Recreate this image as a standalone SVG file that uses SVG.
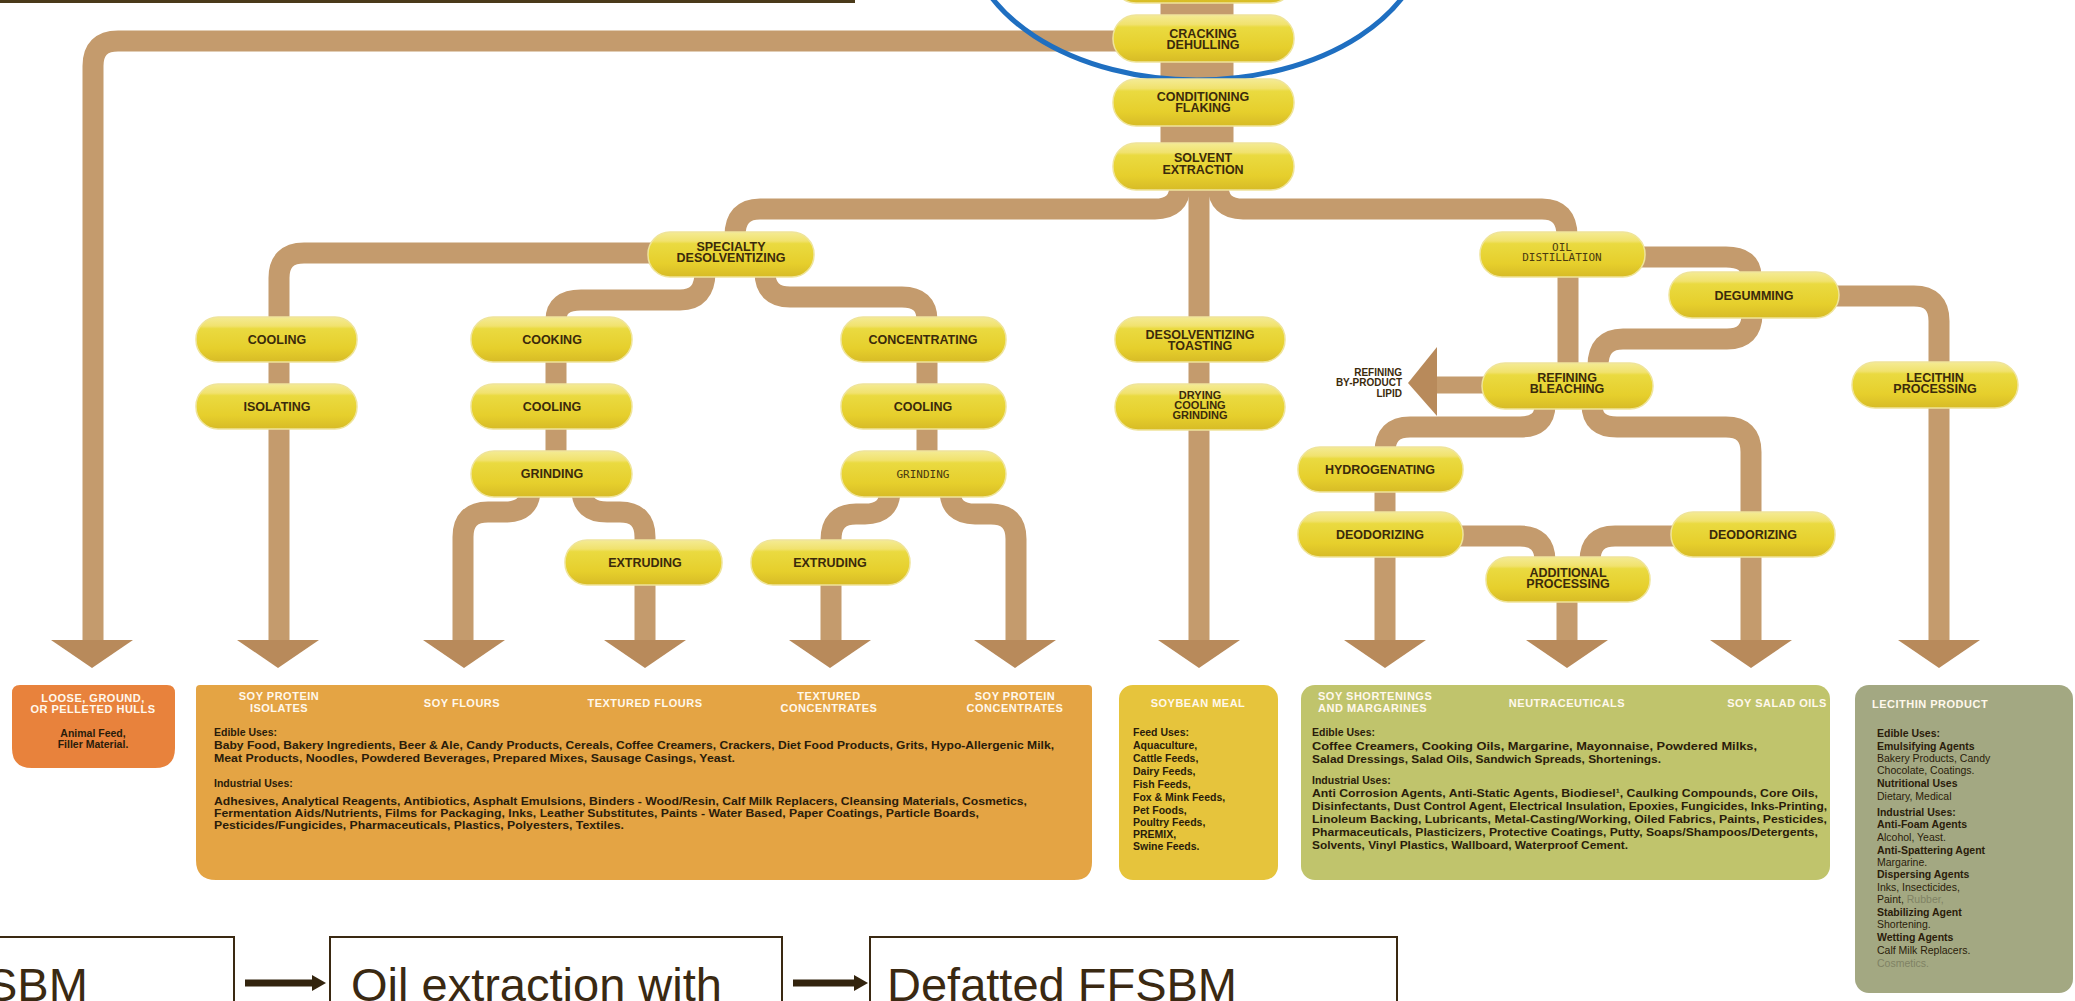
<svg xmlns="http://www.w3.org/2000/svg" width="2075" height="1001" viewBox="0 0 2075 1001">
<defs>
<linearGradient id="pillg" x1="0" y1="0" x2="0" y2="1">
<stop offset="0" stop-color="#f4eb94"/>
<stop offset="0.2" stop-color="#f1e26e"/>
<stop offset="0.26" stop-color="#eada40"/>
<stop offset="0.7" stop-color="#e6cf2c"/>
<stop offset="1" stop-color="#d7bb26"/>
</linearGradient>
</defs>
<style>
.pipe{fill:none;stroke:#c49b6d;stroke-width:21}
.trunk{fill:none;stroke:#c49b6d;stroke-width:73}
.head{fill:#b88a5b}
.pill{fill:url(#pillg);stroke:#efe49a;stroke-width:1.5}
.nt{font-family:"Liberation Sans",Arial,sans-serif;font-weight:bold;font-size:12.5px;fill:#3b2a0b;text-anchor:middle}
.nts{font-family:"Liberation Sans",Arial,sans-serif;font-weight:bold;font-size:11px;fill:#3b2a0b;text-anchor:middle}
.ntl{font-family:"DejaVu Sans Mono",monospace;font-size:11px;fill:#4a3a10;text-anchor:middle}
.lbl{font-family:"Liberation Sans",Arial,sans-serif;font-weight:bold;font-size:10px;fill:#3b2a0b;text-anchor:end}
.tt{font-family:"Liberation Sans",Arial,sans-serif;font-weight:bold;font-size:11px;fill:#fff8ec;letter-spacing:0.5px}
.ttc{text-anchor:middle}
.bt{font-family:"Liberation Sans",Arial,sans-serif;font-weight:bold;font-size:10.5px;fill:#2a1c0a}
.btr{font-family:"Liberation Sans",Arial,sans-serif;font-size:10.5px;fill:#2a1c0a}
.fade{fill:#7f8264}
.fb{fill:none;stroke:#3a2912;stroke-width:2}
.ft{font-family:"Liberation Sans",Arial,sans-serif;font-size:47px;fill:#3a2912}
.fa{stroke:#33240e;stroke-width:7}
.fah{fill:#33240e}
</style>
<rect x="0" y="0" width="2075" height="1001" fill="#ffffff"/>

<line x1="0" y1="1.5" x2="855" y2="1.5" stroke="#4a3a1a" stroke-width="3"/>

<g id="connectors">
<line class="trunk" x1="1197" y1="0" x2="1197" y2="150"/>
<path class="pipe" d="M1120,41 H118 Q93,41 93,66 V642"/>
<path class="pipe" d="M1199,185 V642"/>
<path class="pipe" d="M1180,185 Q1180,209 1155,209 H760 Q735,209 735,236"/>
<path class="pipe" d="M1218,185 Q1218,209 1243,209 H1542 Q1567,209 1567,236"/>
<path class="pipe" d="M660,253 H304 Q279,253 279,278 V642"/>
<path class="pipe" d="M705,272 Q705,300 680,300 H581 Q556,300 556,320 V455"/>
<path class="pipe" d="M765,272 Q765,297 790,297 H902 Q927,297 927,320 V455"/>
<path class="pipe" d="M530,490 Q530,512 505,512 H488 Q463,512 463,537 V642"/>
<path class="pipe" d="M582,490 Q582,512 607,512 H620 Q645,512 645,537 V642"/>
<path class="pipe" d="M890,490 Q890,514 865,514 H856 Q831,514 831,540 V642"/>
<path class="pipe" d="M950,490 Q950,514 975,514 H991 Q1016,514 1016,539 V642"/>
<path class="pipe" d="M1640,257 H1726 Q1751,257 1751,276"/>
<path class="pipe" d="M1568,270 V366"/>
<path class="pipe" d="M1835,296 H1914 Q1939,296 1939,321 V642"/>
<path class="pipe" d="M1752,314 Q1752,339 1727,339 H1623 Q1598,339 1598,366"/>
<path class="pipe" d="M1488,385 H1434" style="stroke-width:17"/>
<polygon class="head" points="1437,347 1437,416 1408,383"/>
<path class="pipe" d="M1545,405 Q1545,427 1520,427 H1410 Q1385,427 1385,452 V642"/>
<path class="pipe" d="M1592,405 Q1592,427 1617,427 H1726 Q1751,427 1751,452 V642"/>
<path class="pipe" d="M1460,536 H1520 Q1545,536 1545,561"/>
<path class="pipe" d="M1675,536 H1615 Q1590,536 1590,561"/>
<path class="pipe" d="M1567,598 V642"/>
<polygon class="head" points="51,640 133,640 92,668"/>
<polygon class="head" points="237,640 319,640 278,668"/>
<polygon class="head" points="423,640 505,640 464,668"/>
<polygon class="head" points="604,640 686,640 645,668"/>
<polygon class="head" points="789,640 871,640 830,668"/>
<polygon class="head" points="974,640 1056,640 1015,668"/>
<polygon class="head" points="1158,640 1240,640 1199,668"/>
<polygon class="head" points="1344,640 1426,640 1385,668"/>
<polygon class="head" points="1526,640 1608,640 1567,668"/>
<polygon class="head" points="1710,640 1792,640 1751,668"/>
<polygon class="head" points="1898,640 1980,640 1939,668"/>
</g>

<ellipse cx="1197" cy="-70" rx="230" ry="150" fill="none" stroke="#1f6fc1" stroke-width="5"/>

<g id="n-top"><rect class="pill" x="1113" y="-44" width="181" height="47" rx="23"/></g>
<g id="n-cracking"><rect class="pill" x="1113" y="15" width="181" height="47" rx="23"/><text class="nt" x="1203" y="37.5">CRACKING</text><text class="nt" x="1203" y="48.5">DEHULLING</text></g>
<g id="n-conditioning"><rect class="pill" x="1113" y="79" width="181" height="47" rx="23"/><text class="nt" x="1203" y="101">CONDITIONING</text><text class="nt" x="1203" y="111.5">FLAKING</text></g>
<g id="n-solvent"><rect class="pill" x="1113" y="143" width="181" height="47" rx="23"/><text class="nt" x="1203" y="162">SOLVENT</text><text class="nt" x="1203" y="173.5">EXTRACTION</text></g>
<g id="n-specialty"><rect class="pill" x="648" y="232" width="166" height="45" rx="22"/><text class="nt" x="731" y="251">SPECIALTY</text><text class="nt" x="731" y="262">DESOLVENTIZING</text></g>
<g id="n-oil"><rect class="pill" x="1480" y="232" width="165" height="45" rx="22"/><text class="ntl" x="1562" y="251">OIL</text><text class="ntl" x="1562" y="261">DISTILLATION</text></g>
<g id="n-degumming"><rect class="pill" x="1669" y="272" width="170" height="46" rx="23"/><text class="nt" x="1754" y="300">DEGUMMING</text></g>
<g id="n-cooling1"><rect class="pill" x="196" y="317" width="161" height="45" rx="22"/><text class="nt" x="277" y="344">COOLING</text></g>
<g id="n-isolating"><rect class="pill" x="196" y="384" width="161" height="45" rx="22"/><text class="nt" x="277" y="411">ISOLATING</text></g>
<g id="n-cooking"><rect class="pill" x="471" y="317" width="161" height="45" rx="22"/><text class="nt" x="552" y="344">COOKING</text></g>
<g id="n-cooling2"><rect class="pill" x="471" y="384" width="161" height="45" rx="22"/><text class="nt" x="552" y="411">COOLING</text></g>
<g id="n-grinding1"><rect class="pill" x="471" y="451" width="161" height="46" rx="23"/><text class="nt" x="552" y="478">GRINDING</text></g>
<g id="n-extruding1"><rect class="pill" x="565" y="540" width="157" height="45" rx="22"/><text class="nt" x="645" y="567">EXTRUDING</text></g>
<g id="n-concentrating"><rect class="pill" x="841" y="317" width="165" height="45" rx="22"/><text class="nt" x="923" y="344">CONCENTRATING</text></g>
<g id="n-cooling3"><rect class="pill" x="841" y="384" width="165" height="45" rx="22"/><text class="nt" x="923" y="411">COOLING</text></g>
<g id="n-grinding2"><rect class="pill" x="841" y="451" width="165" height="46" rx="23"/><text class="ntl" x="923" y="478">GRINDING</text></g>
<g id="n-extruding2"><rect class="pill" x="751" y="540" width="159" height="45" rx="22"/><text class="nt" x="830" y="567">EXTRUDING</text></g>
<g id="n-desolv"><rect class="pill" x="1115" y="317" width="170" height="45" rx="22"/><text class="nt" x="1200" y="339">DESOLVENTIZING</text><text class="nt" x="1200" y="349.5">TOASTING</text></g>
<g id="n-drying"><rect class="pill" x="1115" y="384" width="170" height="46" rx="23"/><text class="nts" x="1200" y="398.5">DRYING</text><text class="nts" x="1200" y="408.5">COOLING</text><text class="nts" x="1200" y="419">GRINDING</text></g>
<g id="n-refining"><rect class="pill" x="1482" y="363" width="171" height="46" rx="23"/><text class="nt" x="1567" y="382">REFINING</text><text class="nt" x="1567" y="393">BLEACHING</text></g>
<g id="n-byproduct"><text class="lbl" x="1402" y="375.5">REFINING</text><text class="lbl" x="1402" y="385.5">BY-PRODUCT</text><text class="lbl" x="1402" y="397">LIPID</text></g>
<g id="n-hydro"><rect class="pill" x="1298" y="447" width="165" height="45" rx="22"/><text class="nt" x="1380" y="474">HYDROGENATING</text></g>
<g id="n-deodor1"><rect class="pill" x="1298" y="512" width="165" height="45" rx="22"/><text class="nt" x="1380" y="539">DEODORIZING</text></g>
<g id="n-deodor2"><rect class="pill" x="1671" y="512" width="164" height="45" rx="22"/><text class="nt" x="1753" y="539">DEODORIZING</text></g>
<g id="n-additional"><rect class="pill" x="1486" y="557" width="164" height="45" rx="22"/><text class="nt" x="1568" y="577">ADDITIONAL</text><text class="nt" x="1568" y="588">PROCESSING</text></g>
<g id="n-lecithin"><rect class="pill" x="1852" y="362" width="166" height="46" rx="23"/><text class="nt" x="1935" y="382">LECITHIN</text><text class="nt" x="1935" y="393">PROCESSING</text></g>

<g id="b-hulls">
<path d="M20,685 H167 Q175,685 175,693 V748 Q175,768 155,768 H32 Q12,768 12,748 V693 Q12,685 20,685 Z" fill="#e8823c"/>
<text class="tt ttc" x="93" y="702">LOOSE, GROUND,</text>
<text class="tt ttc" x="93" y="713">OR PELLETED HULLS</text>
<text class="btr ttc" x="93" y="737" style="font-weight:bold">Animal Feed,</text>
<text class="btr ttc" x="93" y="748" style="font-weight:bold">Filler Material.</text>
</g>

<g id="b-protein">
<path d="M200,685 H1088 Q1092,685 1092,689 V862 Q1092,880 1074,880 H216 Q196,880 196,860 V689 Q196,685 200,685 Z" fill="#e4a444"/>
<text class="tt ttc" x="279" y="700">SOY PROTEIN</text>
<text class="tt ttc" x="279" y="712">ISOLATES</text>
<text class="tt ttc" x="462" y="707">SOY FLOURS</text>
<text class="tt ttc" x="645" y="707">TEXTURED FLOURS</text>
<text class="tt ttc" x="829" y="700">TEXTURED</text>
<text class="tt ttc" x="829" y="712">CONCENTRATES</text>
<text class="tt ttc" x="1015" y="700">SOY PROTEIN</text>
<text class="tt ttc" x="1015" y="712">CONCENTRATES</text>
<text class="bt" x="214" y="736">Edible Uses:</text>
<text class="bt" x="214" y="749" textLength="840" lengthAdjust="spacingAndGlyphs">Baby Food, Bakery Ingredients, Beer &amp; Ale, Candy Products, Cereals, Coffee Creamers, Crackers, Diet Food Products, Grits, Hypo-Allergenic Milk,</text>
<text class="bt" x="214" y="762" textLength="521" lengthAdjust="spacingAndGlyphs">Meat Products, Noodles, Powdered Beverages, Prepared Mixes, Sausage Casings, Yeast.</text>
<text class="bt" x="214" y="787">Industrial Uses:</text>
<text class="bt" x="214" y="805" textLength="813" lengthAdjust="spacingAndGlyphs">Adhesives, Analytical Reagents, Antibiotics, Asphalt Emulsions, Binders - Wood/Resin, Calf Milk Replacers, Cleansing Materials, Cosmetics,</text>
<text class="bt" x="214" y="817" textLength="765" lengthAdjust="spacingAndGlyphs">Fermentation Aids/Nutrients, Films for Packaging, Inks, Leather Substitutes, Paints - Water Based, Paper Coatings, Particle Boards,</text>
<text class="bt" x="214" y="829" textLength="410" lengthAdjust="spacingAndGlyphs">Pesticides/Fungicides, Pharmaceuticals, Plastics, Polyesters, Textiles.</text>
</g>

<g id="b-meal">
<rect x="1119" y="685" width="159" height="195" rx="14" fill="#e6c43c"/>
<text class="tt ttc" x="1198" y="707">SOYBEAN MEAL</text>
<text class="bt" x="1133" y="736">Feed Uses:</text>
<text class="bt" x="1133" y="749">Aquaculture,</text>
<text class="bt" x="1133" y="762">Cattle Feeds,</text>
<text class="bt" x="1133" y="775">Dairy Feeds,</text>
<text class="bt" x="1133" y="788">Fish Feeds,</text>
<text class="bt" x="1133" y="801">Fox &amp; Mink Feeds,</text>
<text class="bt" x="1133" y="814">Pet Foods,</text>
<text class="bt" x="1133" y="826">Poultry Feeds,</text>
<text class="bt" x="1133" y="838">PREMIX,</text>
<text class="bt" x="1133" y="850">Swine Feeds.</text>
</g>

<g id="b-oil">
<rect x="1301" y="685" width="529" height="195" rx="14" fill="#c0c46c"/>
<text class="tt" x="1318" y="700">SOY SHORTENINGS</text>
<text class="tt" x="1318" y="712">AND MARGARINES</text>
<text class="tt ttc" x="1567" y="707">NEUTRACEUTICALS</text>
<text class="tt ttc" x="1777" y="707">SOY SALAD OILS</text>
<text class="bt" x="1312" y="736">Edible Uses:</text>
<text class="bt" x="1312" y="750" textLength="445" lengthAdjust="spacingAndGlyphs">Coffee Creamers, Cooking Oils, Margarine, Mayonnaise, Powdered Milks,</text>
<text class="bt" x="1312" y="763" textLength="349" lengthAdjust="spacingAndGlyphs">Salad Dressings, Salad Oils, Sandwich Spreads, Shortenings.</text>
<text class="bt" x="1312" y="784">Industrial Uses:</text>
<text class="bt" x="1312" y="797" textLength="506" lengthAdjust="spacingAndGlyphs">Anti Corrosion Agents, Anti-Static Agents, Biodiesel¹, Caulking Compounds, Core Oils,</text>
<text class="bt" x="1312" y="810" textLength="515" lengthAdjust="spacingAndGlyphs">Disinfectants, Dust Control Agent, Electrical Insulation, Epoxies, Fungicides, Inks-Printing,</text>
<text class="bt" x="1312" y="823" textLength="515" lengthAdjust="spacingAndGlyphs">Linoleum Backing, Lubricants, Metal-Casting/Working, Oiled Fabrics, Paints, Pesticides,</text>
<text class="bt" x="1312" y="836" textLength="506" lengthAdjust="spacingAndGlyphs">Pharmaceuticals, Plasticizers, Protective Coatings, Putty, Soaps/Shampoos/Detergents,</text>
<text class="bt" x="1312" y="849" textLength="316" lengthAdjust="spacingAndGlyphs">Solvents, Vinyl Plastics, Wallboard, Waterproof Cement.</text>
</g>

<g id="b-lecithin">
<rect x="1855" y="685" width="218" height="308" rx="14" fill="#a3a882"/>
<text class="tt" x="1872" y="708">LECITHIN PRODUCT</text>
<text class="bt" x="1877" y="737">Edible Uses:</text>
<text class="bt" x="1877" y="750">Emulsifying Agents</text>
<text class="btr" x="1877" y="762">Bakery Products, Candy</text>
<text class="btr" x="1877" y="774">Chocolate, Coatings.</text>
<text class="bt" x="1877" y="787">Nutritional Uses</text>
<text class="btr" x="1877" y="800">Dietary, Medical</text>
<text class="bt" x="1877" y="816">Industrial Uses:</text>
<text class="bt" x="1877" y="828">Anti-Foam Agents</text>
<text class="btr" x="1877" y="841">Alcohol, Yeast.</text>
<text class="bt" x="1877" y="854">Anti-Spattering Agent</text>
<text class="btr" x="1877" y="866">Margarine.</text>
<text class="bt" x="1877" y="878">Dispersing Agents</text>
<text class="btr" x="1877" y="891">Inks, Insecticides,</text>
<text class="btr" x="1877" y="903">Paint, <tspan class="fade">Rubber,</tspan></text>
<text class="bt" x="1877" y="916">Stabilizing Agent</text>
<text class="btr" x="1877" y="928">Shortening.</text>
<text class="bt" x="1877" y="941">Wetting Agents</text>
<text class="btr" x="1877" y="954">Calf Milk Replacers.</text>
<text class="btr fade" x="1877" y="967">Cosmetics.</text>
</g>

<g id="f-box1"><rect class="fb" x="-5" y="937" width="239" height="80"/><text class="ft" x="-14" y="1001">SBM</text></g>
<g id="f-box2"><rect class="fb" x="330" y="937" width="452" height="80"/><text class="ft" x="351" y="1001">Oil extraction with</text></g>
<g id="f-box3"><rect class="fb" x="870" y="937" width="527" height="80"/><text class="ft" x="887" y="1001">Defatted FFSBM</text></g>
<g id="f-arrows">
<line class="fa" x1="245" y1="983" x2="314" y2="983"/><polygon class="fah" points="312,975 326,983 312,991"/>
<line class="fa" x1="793" y1="983" x2="856" y2="983"/><polygon class="fah" points="854,975 868,983 854,991"/>
</g>
</svg>
